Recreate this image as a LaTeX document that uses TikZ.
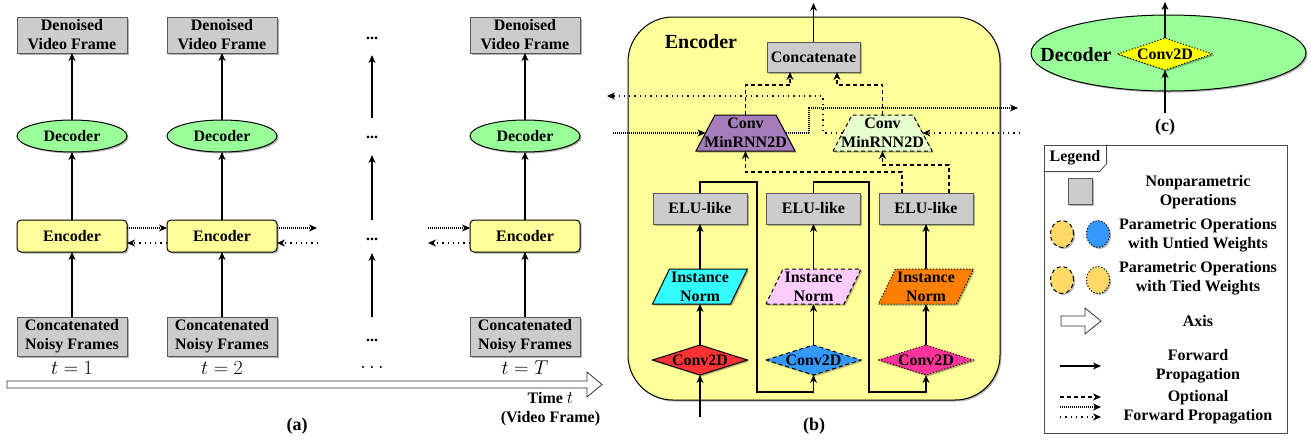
\documentclass[tikz,border=0pt]{standalone}
\usepackage{fix-cm}
\usepackage{fontspec}
\setmainfont{Liberation Serif}
\usetikzlibrary{arrows.meta,shapes.geometric,shadows,calc}
\pgfdeclarelayer{bottom}
\pgfdeclarelayer{bg}
\pgfsetlayers{bottom,bg,main}
\definecolor{gboxc}{RGB}{204,204,204}
\definecolor{encY}{RGB}{255,255,153}
\definecolor{decG}{RGB}{153,255,153}
\definecolor{rnnP}{RGB}{166,124,186}
\definecolor{rnnG}{RGB}{230,255,204}
\definecolor{inC}{RGB}{51,255,255}
\definecolor{inP}{RGB}{255,204,255}
\definecolor{inO}{RGB}{255,128,0}
\definecolor{cvR}{RGB}{255,51,51}
\definecolor{cvB}{RGB}{51,153,255}
\definecolor{cvM}{RGB}{255,51,153}
\definecolor{cvY}{RGB}{255,255,0}
\definecolor{lgY}{RGB}{255,217,102}
\tikzset{
  lbl/.style={font=\fontsize{16}{19}\selectfont\bfseries, align=center, inner sep=0pt, outer sep=0pt},
  mth/.style={font=\fontsize{20}{22}\selectfont, inner sep=0pt},
  capl/.style={font=\fontsize{18}{20}\selectfont\bfseries, inner sep=0pt},
  bigl/.style={font=\fontsize{20}{22}\selectfont\bfseries, inner sep=0pt},
  shd/.style={drop shadow={shadow xshift=1.5pt, shadow yshift=-1.5pt, opacity=0.3, fill=black}},
  gbox/.style={lbl, rectangle, draw=black!65, fill=gboxc, line width=0.9pt, shd},
  encs/.style={lbl, rectangle, rounded corners=4pt, draw=black, fill=encY, minimum width=110pt, minimum height=32pt, line width=1pt, shd},
  decs/.style={lbl, ellipse, draw=black, fill=decG, minimum width=110pt, minimum height=32pt, line width=1pt, shd},
  shapeb/.style={draw=black, line width=1pt, shd},
  arr/.style={-{Stealth[length=8pt,width=7pt,inset=2.5pt]}, line width=1.1pt},
  dsh/.style={dash pattern=on 4pt off 3pt},
  ddot/.style={dash pattern=on 1pt off 1pt},
  ldot/.style={dash pattern=on 1.3pt off 4pt},
  bdot/.style={dash pattern=on 1.2pt off 1.8pt},
  axisarrow/.style={draw=black!80, fill=white, line width=0.8pt},
}
\begin{document}
\begin{tikzpicture}[x=1pt,y=-1pt]
\useasboundingbox (0,0) rectangle (1310,440);

% ---------------- panel (a) ----------------
\foreach \c/\x in {1/72,2/222,4/525} {
  \node[gbox,minimum width=110pt,minimum height=36pt] (den\c) at (\x,35) {Denoised\\Video Frame};
  \node[decs] (dec\c) at (\x,136) {Decoder};
  \node[encs] (enc\c) at (\x,236) {Encoder};
  \node[gbox,minimum width=110pt,minimum height=39pt] (cat\c) at (\x,336.5) {Concatenated\\Noisy Frames};
  \draw[arr] (cat\c) -- (enc\c);
  \draw[arr] (enc\c) -- (dec\c);
  \draw[arr] (dec\c) -- (den\c);
}
\node[lbl] (d1) at (372,38) {...};
\node[lbl] (d2) at (372,137) {...};
\node[lbl] (d3) at (372,239) {...};
\node[lbl] (d4) at (372,340) {...};
\node[mth] (tc) at (372,368) {$\cdots$};
\draw[arr] ([yshift=19pt]d2.center) -- ([yshift=-17pt]d1.center);
\draw[arr] ([yshift=19pt]d3.center) -- ([yshift=-18pt]d2.center);
\draw[arr] ([yshift=23pt]d4.center) -- ([yshift=-14pt]d3.center);

\node[mth] (t1) at (72,368) {$t=1$};
\node[mth] (t2) at (222,368) {$t=2$};
\node[mth] (tT) at (525,368) {$t=T$};

\coordinate (o2) at (317,228);
\coordinate (i2) at (318,243);
\coordinate (i4) at (428,228);
\coordinate (o4) at (428,243);
\draw[arr,ddot] ([yshift=8pt]enc1.east) -- ([yshift=8pt]enc2.west);
\draw[arr,ldot] ([yshift=-7pt]enc2.west) -- ([yshift=-7pt]enc1.east);
\draw[arr,ddot] ([yshift=8pt]enc2.east) -- (o2);
\draw[arr,ldot] (i2) -- ([yshift=-7pt]enc2.east);
\draw[arr,ddot] (i4) -- ([yshift=8pt]enc4.west);
\draw[arr,ldot] ([yshift=-7pt]enc4.west) -- (o4);

\draw[axisarrow] (7,381) -- (587,381) -- (587,372) -- (602,384.5) -- (587,397) -- (587,388) -- (7,388) -- cycle;
\node[lbl] (timelbl) at (550.5,409) {Time {\fontsize{18}{19}\selectfont$t$}\\(Video Frame)};
\node[capl] (capa) at (297,426) {(a)};

% ---------------- panel (b) ----------------
\begin{pgfonlayer}{bottom}
\node[draw=black,fill=encY,rounded corners=45pt,minimum width=372pt,minimum height=383pt,line width=1pt,shd] (encbox) at (814,208.5) {};
\end{pgfonlayer}
\node[bigl] (enclbl) at (701,42) {Encoder};
\node[gbox,minimum width=93pt,minimum height=30pt] (concat) at (813.5,57) {Concatenate};
\coordinate (bout) at (813.5,3);
\draw[arr] (concat) -- (bout);

\node[lbl,minimum width=99pt,minimum height=36pt] (rnn1) at (745.5,133) {Conv\\MinRNN2D};
\node[lbl,minimum width=99pt,minimum height=36pt] (rnn2) at (882.5,133) {Conv\\MinRNN2D};

\node[gbox,minimum width=94pt,minimum height=31pt] (elu1) at (700,208.5) {ELU-like};
\node[gbox,minimum width=94pt,minimum height=31pt] (elu2) at (813.5,208.5) {ELU-like};
\node[gbox,minimum width=94pt,minimum height=31pt] (elu3) at (926,208.5) {ELU-like};

\node[lbl,minimum width=95pt,minimum height=35pt] (in1) at (700,286.5) {Instance\\Norm};
\node[lbl,minimum width=95pt,minimum height=35pt] (in2) at (813.5,286.5) {Instance\\Norm};
\node[lbl,minimum width=95pt,minimum height=35pt] (in3) at (926,286.5) {Instance\\Norm};

\node[lbl,minimum width=95pt,minimum height=30pt] (cv1) at (700,360) {Conv2D};
\node[lbl,minimum width=95pt,minimum height=30pt] (cv2) at (813.5,360) {Conv2D};
\node[lbl,minimum width=95pt,minimum height=30pt] (cv3) at (926,360) {Conv2D};

\begin{pgfonlayer}{bg}
\path[shapeb,fill=rnnP] (rnn1.south west) -- (rnn1.south east) -- ([xshift=-19pt]rnn1.north east) -- ([xshift=19pt]rnn1.north west) -- cycle;
\path[shapeb,dsh,fill=rnnG] (rnn2.south west) -- (rnn2.south east) -- ([xshift=-19pt]rnn2.north east) -- ([xshift=19pt]rnn2.north west) -- cycle;
\path[shapeb,fill=inC] (in1.south west) -- ([xshift=-17pt]in1.south east) -- (in1.north east) -- ([xshift=17pt]in1.north west) -- cycle;
\path[shapeb,dsh,fill=inP] (in2.south west) -- ([xshift=-17pt]in2.south east) -- (in2.north east) -- ([xshift=17pt]in2.north west) -- cycle;
\path[shapeb,bdot,fill=inO] (in3.south west) -- ([xshift=-17pt]in3.south east) -- (in3.north east) -- ([xshift=17pt]in3.north west) -- cycle;
\path[shapeb,fill=cvR] (cv1.west) -- (cv1.north) -- (cv1.east) -- (cv1.south) -- cycle;
\path[shapeb,dsh,fill=cvB] (cv2.west) -- (cv2.north) -- (cv2.east) -- (cv2.south) -- cycle;
\path[shapeb,bdot,fill=cvM] (cv3.west) -- (cv3.north) -- (cv3.east) -- (cv3.south) -- cycle;
\end{pgfonlayer}

\coordinate (bin) at (700,417);
\draw[arr] (bin) -- (cv1);
\draw[arr] (cv1) -- (in1);
\draw[arr] (in1) -- (elu1);
\draw[arr] (cv2) -- (in2);
\draw[arr] (in2) -- (elu2);
\draw[arr] (cv3) -- (in3);
\draw[arr] (in3) -- (elu3);
\draw[arr] (elu1.north) -- ++(0,-11) -| (757,392) -| (cv2.south);
\draw[arr] (elu2.north) -- ++(0,-11) -| (869,392) -| (cv3.south);

\draw[arr,dsh] ([xshift=-24pt]elu3.north) -- ++(0,-21) -| (rnn1.south);
\draw[arr,dsh] ([xshift=23pt]elu3.north) -- ++(0,-28) -| (rnn2.south);
\draw[arr,dsh] (rnn1.north) -- ++(0,-30) -| ([xshift=-23.5pt]concat.south);
\draw[arr,dsh] (rnn2.north) -- ++(0,-30) -| ([xshift=23.5pt]concat.south);

\coordinate (fin) at (613,133);
\coordinate (fout) at (1018,108);
\coordinate (kin) at (1020,133);
\coordinate (kout) at (607,96);
\draw[arr,ddot] (fin) -- ([xshift=9.5pt]rnn1.west);
\draw[arr,ddot] ([xshift=-9.5pt]rnn1.east) -| (809,108) -- (fout);
\draw[arr,ldot] (kin) -- ([xshift=-9.5pt]rnn2.east);
\draw[arr,ldot] ([xshift=9.5pt]rnn2.west) -| (823,96) -- (kout);

\node[capl] (capb) at (814,426) {(b)};

% ---------------- panel (c) ----------------
\begin{pgfonlayer}{bottom}
\node[ellipse,draw=black,fill=decG,minimum width=275pt,minimum height=76pt,line width=1pt,shd] (decbig) at (1168.5,53) {};
\end{pgfonlayer}
\node[bigl] (declbl) at (1076,55) {Decoder};
\node[lbl,minimum width=95pt,minimum height=32pt] (cvc) at (1165,54) {Conv2D};
\begin{pgfonlayer}{bg}
\path[shapeb,bdot,fill=cvY] (cvc.west) -- (cvc.north) -- (cvc.east) -- (cvc.south) -- cycle;
\end{pgfonlayer}
\coordinate (cin) at (1165,113);
\coordinate (cout) at (1165,2);
\draw[arr] (cin) -- (cvc);
\draw[arr] (cvc) -- (cout);
\node[capl] (capc) at (1165,127) {(c)};

% ---------------- legend ----------------
\begin{pgfonlayer}{bottom}
\node[draw=black!70,fill=white,minimum width=243pt,minimum height=288pt,line width=0.8pt,inner sep=0pt] (lgbox) at (1165.5,289) {};
\end{pgfonlayer}
\draw[draw=black!70,line width=0.8pt] ([yshift=-27pt]lgbox.north west) -- ++(56,0) -- ++(7,-8) -- ([xshift=63pt]lgbox.north west);
\node[lbl] (lgt) at (1075,158) {Legend};
\node[gbox,minimum width=24pt,minimum height=26pt] (lgsq) at (1080,191) {};
\node[lbl] (lgsqt) at (1198,192) {Nonparametric\\Operations};
\node[ellipse,draw=black,fill=lgY,dsh,minimum width=23pt,minimum height=27pt,line width=1pt,inner sep=0pt,shd] (lc1) at (1062,234) {};
\node[ellipse,draw=black,fill=cvB,bdot,minimum width=23pt,minimum height=27pt,line width=1pt,inner sep=0pt,shd] (lc2) at (1098,234) {};
\node[ellipse,draw=black,fill=lgY,dsh,minimum width=23pt,minimum height=27pt,line width=1pt,inner sep=0pt,shd] (lc3) at (1062,280) {};
\node[ellipse,draw=black,fill=lgY,bdot,minimum width=23pt,minimum height=27pt,line width=1pt,inner sep=0pt,shd] (lc4) at (1098,280) {};
\node[lbl] (lut) at (1198,235) {Parametric Operations\\with Untied Weights};
\node[lbl] (ltt) at (1198,278) {Parametric Operations\\with Tied Weights};
\draw[axisarrow] (1061,316) -- (1085,316) -- (1085,308) -- (1101,321) -- (1085,334) -- (1085,326) -- (1061,326) -- cycle;
\node[lbl] (lax) at (1198,321) {Axis};
\coordinate (lf1) at (1060,366);
\coordinate (lf2) at (1101,366);
\draw[arr] (lf1) -- (lf2);
\node[lbl] (lfw) at (1198,366) {Forward\\Propagation};
\coordinate (lo1a) at (1060,397);
\coordinate (lo1b) at (1101,397);
\coordinate (lo2a) at (1060,407);
\coordinate (lo2b) at (1101,407);
\coordinate (lo3a) at (1060,417);
\coordinate (lo3b) at (1101,417);
\draw[arr,dsh] (lo1a) -- (lo1b);
\draw[arr,ddot] (lo2a) -- (lo2b);
\draw[arr,ldot] (lo3a) -- (lo3b);
\node[lbl] (lop) at (1198,407) {Optional\\Forward Propagation};
\end{tikzpicture}
\end{document}
